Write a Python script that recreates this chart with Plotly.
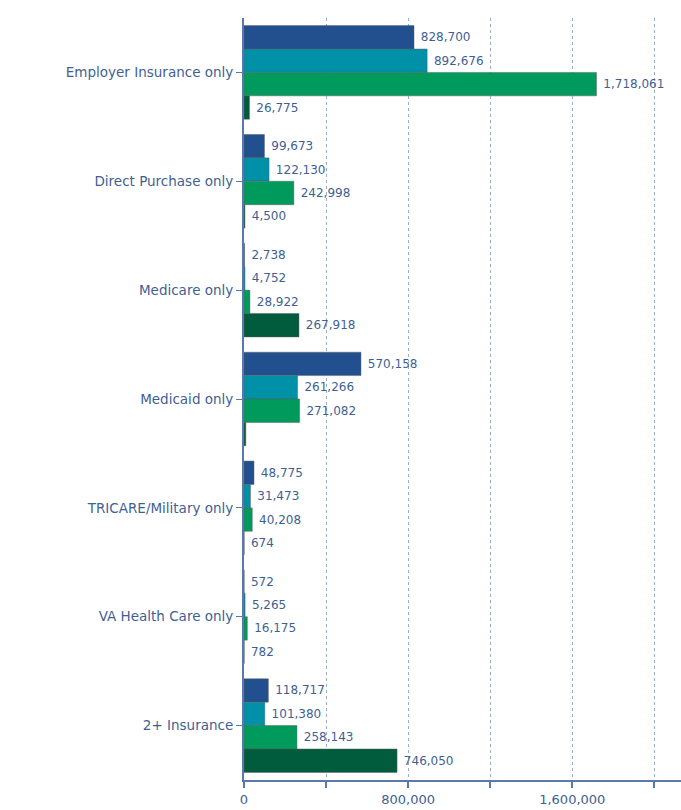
import plotly.graph_objects as go

categories = ["Employer Insurance only", "Direct Purchase only", "Medicare only",
              "Medicaid only", "TRICARE/Military only", "VA Health Care only", "2+ Insurance"]
series_a = [828700, 99673, 2738, 570158, 48775, 572, 118717]
series_b = [892676, 122130, 4752, 261266, 31473, 5265, 101380]
series_c = [1718061, 242998, 28922, 271082, 40208, 16175, 258143]
series_d = [26775, 4500, 267918, 9000, 674, 782, 746050]
hidden_labels = [(3, 3)]  # (series index, category index) shown without a value label

tick_vals = [0, 400000, 800000, 1200000, 1600000, 2000000]
tick_text = ["0", "", "800,000", "", "1,600,000", ""]

colors = ["#22508f", "#0090a8", "#009a5c", "#005c3c"]
all_series = [series_a, series_b, series_c, series_d]
FONT = "DejaVu Sans"
TXT = "#3f5f94"

fig = go.Figure()
for si, (vals, col) in enumerate(zip(all_series, colors)):
    texts = []
    for ci, v in enumerate(vals):
        texts.append("" if (si, ci) in hidden_labels else "\u00a0" + f"{v:,}")
    fig.add_trace(go.Bar(
        y=categories, x=vals, orientation="h",
        marker=dict(color=col, line=dict(color="rgba(90,90,90,0.45)", width=1)),
        text=texts, textposition="outside", cliponaxis=False,
        textfont=dict(family=FONT, size=12, color=TXT),
        showlegend=False,
    ))

fig.update_layout(
    width=681, height=810,
    margin=dict(l=244, r=0, t=18, b=30),
    barmode="group", bargap=0.14, bargroupgap=0,
    plot_bgcolor="white", paper_bgcolor="white",
    font=dict(family=FONT, color=TXT),
)
fig.update_xaxes(
    range=[0, 2130000], tickvals=tick_vals, ticktext=tick_text,
    showgrid=True, gridcolor="#9aaccc", griddash="dot", gridwidth=1,
    showline=True, linecolor="#5b78ad", linewidth=2,
    ticks="outside", ticklen=6, tickcolor="#5b78ad", tickwidth=2,
    tickfont=dict(family=FONT, size=13, color=TXT),
    zeroline=False,
)
fig.update_yaxes(
    autorange="reversed",
    showline=True, linecolor="#5b78ad", linewidth=2,
    ticks="outside", ticklen=6, tickcolor="#5b78ad", tickwidth=1,
    tickfont=dict(family=FONT, size=13.5, color=TXT),
    showgrid=False,
)
fig.write_html("out.html", config={"displayModeBar": False},
               post_script="document.body.style.margin='0';")
